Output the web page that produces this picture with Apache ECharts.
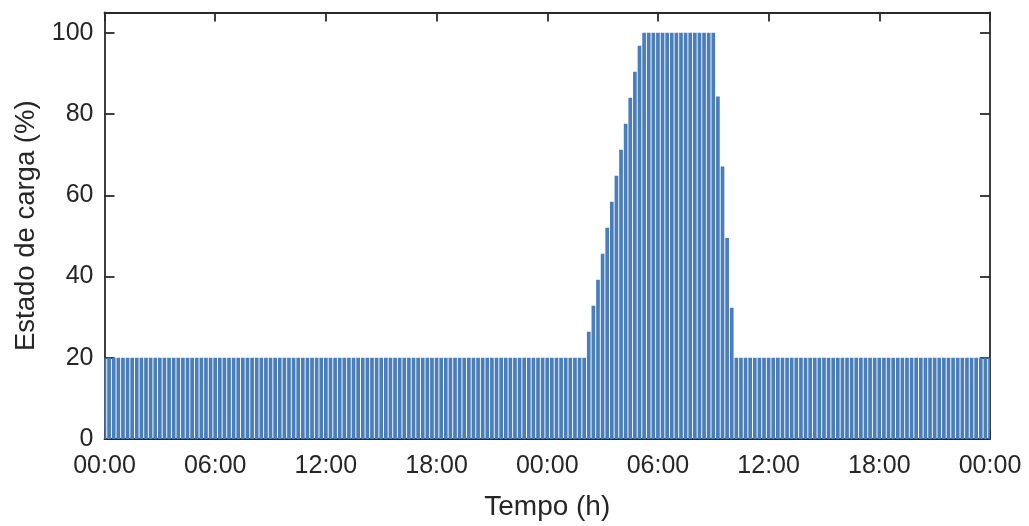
<!DOCTYPE html>
<html>
<head>
<meta charset="utf-8">
<script src="https://cdn.jsdelivr.net/npm/echarts@6/dist/echarts.min.js"></script>
<style>
html,body{margin:0;padding:0;background:#fff;}
#chart{width:1029px;height:526px;}
</style>
</head>
<body>
<div id="chart"></div>
<script>
// Time step of the samples (hours)
const stepHours = 0.25;
const xTickLabels = ['00:00','06:00','12:00','18:00','00:00','06:00','12:00','18:00','00:00'];
// State of charge (%) per 15-minute sample, from 00:00 day 1 to 00:00 day 3
const soc = [
  20,20,20,20,20,20,20,20,20,20,20,20,20,20,20,
  20,20,20,20,20,20,20,20,20,20,20,20,20,20,20,
  20,20,20,20,20,20,20,20,20,20,20,20,20,20,20,
  20,20,20,20,20,20,20,20,20,20,20,20,20,20,20,
  20,20,20,20,20,20,20,20,20,20,20,20,20,20,20,
  20,20,20,20,20,20,20,20,20,20,20,20,20,20,20,
  20,20,20,20,20,20,20,20,20,20,20,20,20,20,20,
  26.4,32.8,39.2,45.6,52.0,58.4,64.8,71.2,77.6,84.0,90.4,96.8,
  100,100,100,100,100,100,100,100,100,100,100,100,100,100,100,100,
  84.3,67.1,49.5,32.3,
  20,20,20,20,20,20,20,20,20,20,20,20,20,20,20,
  20,20,20,20,20,20,20,20,20,20,20,20,20,20,20,
  20,20,20,20,20,20,20,20,20,20,20,20,20,20,20,
  20,20,20,20,20,20,20,20,20,20,20
];
const times = soc.map((v, i) => i * stepHours);

const chart = echarts.init(document.getElementById('chart'), null, {renderer: 'canvas'});
const axisColor = '#2a2a2a';
const textColor = '#262626';
const font = 'Liberation Sans, Arial, sans-serif';
const barColor = '#4a7ebb';
const barPx = 3.7;

const lineStyle = {color: axisColor, width: 1.8};
chart.setOption({
  animation: false,
  grid: {left: 104.5, right: 39, top: 12.5, bottom: 86},
  xAxis: [{
    type: 'value', min: 0, max: 48, interval: 6,
    axisLine: {show: true, onZero: false, lineStyle},
    axisTick: {show: true, inside: true, length: 9, lineStyle},
    splitLine: {show: false},
    axisLabel: {
      color: textColor, fontSize: 25, fontFamily: font, margin: 15,
      formatter: (v) => xTickLabels[Math.round(v / 6)]
    },
    name: 'Tempo (h)', nameLocation: 'middle', nameGap: 54,
    nameTextStyle: {color: textColor, fontSize: 28, fontFamily: font}
  }, {
    type: 'value', min: 0, max: 48, interval: 6, position: 'top',
    axisLine: {show: true, onZero: false, lineStyle},
    axisTick: {show: true, inside: true, length: 9, lineStyle},
    splitLine: {show: false}, axisLabel: {show: false}
  }],
  yAxis: [{
    type: 'value', min: 0, max: 105, interval: 20,
    axisLine: {show: true, onZero: false, lineStyle},
    axisTick: {show: true, inside: true, length: 10, lineStyle},
    splitLine: {show: false},
    axisLabel: {
      color: textColor, fontSize: 25, fontFamily: font, margin: 11,
      formatter: (v) => (v % 20 === 0 ? String(v) : '')
    },
    name: 'Estado de carga (%)', nameLocation: 'middle', nameGap: 63, nameRotate: 90,
    nameTextStyle: {color: textColor, fontSize: 27.5, fontFamily: font}
  }, {
    type: 'value', min: 0, max: 105, interval: 20, position: 'right',
    axisLine: {show: true, onZero: false, lineStyle},
    axisTick: {show: true, inside: true, length: 10, lineStyle},
    splitLine: {show: false}, axisLabel: {show: false}
  }],
  series: [{
    type: 'custom',
    xAxisIndex: 0, yAxisIndex: 0,
    z: 1,
    data: times.map((t, i) => [t, soc[i]]),
    encode: {x: 0, y: 1},
    renderItem: function (params, api) {
      const base = api.coord([api.value(0), 0]);
      const top = api.coord([api.value(0), api.value(1)]);
      const cs = params.coordSys;
      const rect = echarts.graphic.clipRectByRect(
        {x: base[0] - barPx / 2, y: top[1], width: barPx, height: base[1] - top[1]},
        {x: cs.x, y: cs.y, width: cs.width, height: cs.height}
      );
      if (!rect) return null;
      return {type: 'rect', shape: rect, style: {fill: barColor}};
    }
  }]
});
</script>
</body>
</html>
